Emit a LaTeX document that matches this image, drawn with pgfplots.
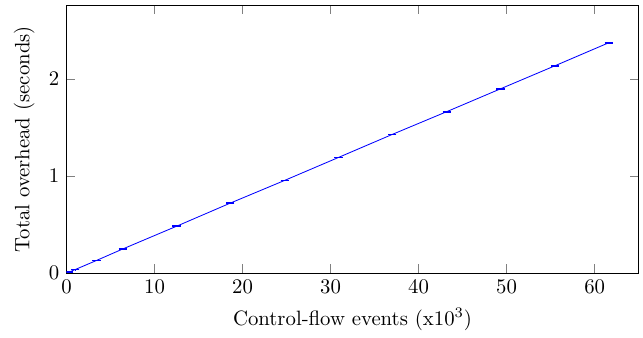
\documentclass[border=0pt]{standalone}
\usepackage{pgfplots}
\pgfplotsset{compat=1.18}
\begin{document}
\begin{tikzpicture}
\begin{axis}[
  scale only axis,
  width=275.6pt, height=129pt,
  xmin=0, xmax=65, ymin=0, ymax=2.76,
  xtick={0,10,20,30,40,50,60},
  ytick={0,1,2},
  xlabel={Control-flow events (x$10^3$)},
  ylabel={Total overhead (seconds)},
]
\addplot[blue, no markers, error bars/.cd, y dir=both, y explicit]
  table[x=x, y=y, y error=e] {
x y e
0.3 0.012 0.004
1.0 0.038 0.004
3.4 0.131 0.004
6.4 0.250 0.004
12.5 0.484 0.004
18.6 0.722 0.004
24.8 0.957 0.004
30.9 1.193 0.004
37.0 1.430 0.004
43.2 1.665 0.004
49.3 1.900 0.004
55.5 2.138 0.004
61.6 2.375 0.004
};
\end{axis}
\path (current bounding box.south west) -- ++(-3.3pt,0);
\path (current bounding box.north east) -- ++(1.9pt,2.4pt);
\end{tikzpicture}
\end{document}
